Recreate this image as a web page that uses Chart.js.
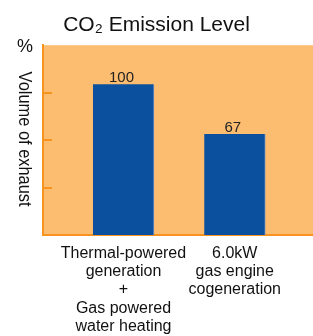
<!DOCTYPE html>
<html>
<head>
<meta charset="utf-8">
<script src="https://cdn.jsdelivr.net/npm/chart.js@4"></script>
<style>
html,body{margin:0;padding:0;background:#fff;}
#wrap{position:relative;width:313px;height:336px;}
</style>
</head>
<body>
<div id="wrap"><canvas id="c" width="313" height="336"></canvas></div>
<script>
const categories = [
  ["Thermal-powered", "generation", "+", "Gas powered", "water heating"],
  ["6.0kW", "gas engine", "cogeneration"]
];
const positions = [0, 1];
const values = [100, 67];
const valueLabels = ["100", "67"];
const titleText = "CO\u2082 Emission Level";
const yUnit = "%";
const yTitle = "Volume of exhaust";
const yTicks = [0, 31.5, 63, 94.5, 126];

const ORANGE_BG = '#FDBD71';
const ORANGE_LINE = '#F7931E';
const BLUE = '#0B509E';

const decor = {
  id: 'decor',
  beforeDraw(chart) {
    const {ctx, chartArea} = chart;
    ctx.save();
    ctx.fillStyle = ORANGE_BG;
    ctx.fillRect(chartArea.left, chartArea.top, chartArea.right - chartArea.left, chartArea.bottom - chartArea.top);
    ctx.restore();
  },
  afterDraw(chart) {
    const {ctx, chartArea} = chart;
    const ys = chart.scales.y;
    const xs = chart.scales.x;
    ctx.save();
    ctx.strokeStyle = ORANGE_LINE;
    ctx.lineWidth = 2;
    yTicks.slice(1, -1).forEach(v => {
      const py = Math.round(ys.getPixelForValue(v));
      ctx.beginPath();
      ctx.moveTo(chartArea.left, py);
      ctx.lineTo(chartArea.left + 9, py);
      ctx.stroke();
    });
    ctx.fillStyle = '#222';
    ctx.font = '15px "Liberation Sans", Arial, sans-serif';
    ctx.textAlign = 'center';
    ctx.textBaseline = 'alphabetic';
    values.forEach((v, i) => {
      ctx.fillText(valueLabels[i], xs.getPixelForValue(positions[i]) - 2, ys.getPixelForValue(v) - 2);
    });
    ctx.fillStyle = '#111';
    ctx.font = '18px "Liberation Sans", Arial, sans-serif';
    ctx.textAlign = 'center';
    ctx.textBaseline = 'middle';
    ctx.fillText(yUnit, 25, chartArea.top + 2);
    ctx.translate(24, (chartArea.top + chartArea.bottom) / 2 - 1);
    ctx.rotate(Math.PI / 2);
    ctx.font = '19px "Liberation Sans", Arial, sans-serif';
    const w = ctx.measureText(yTitle).width;
    ctx.scale(135 / w, 1);
    ctx.textAlign = 'center';
    ctx.textBaseline = 'middle';
    ctx.fillStyle = '#111';
    ctx.fillText(yTitle, 0, 0);
    ctx.restore();
  }
};

new Chart(document.getElementById('c'), {
  type: 'bar',
  data: {
    datasets: [{
      data: positions.map((p, i) => ({x: p, y: values[i]})),
      backgroundColor: BLUE,
      borderColor: '#6f8fbf',
      borderWidth: {top: 0, left: 0, bottom: 0, right: 1},
      borderSkipped: false,
      barThickness: 61
    }]
  },
  options: {
    responsive: false,
    animation: false,
    devicePixelRatio: 1,
    layout: {padding: {top: 0, left: 0, right: 0, bottom: 0}},
    plugins: {
      legend: {display: false},
      tooltip: {enabled: false},
      title: {
        display: true,
        text: titleText,
        color: '#111',
        font: {family: '"Liberation Sans", Arial, sans-serif', size: 21, weight: 'normal'},
        padding: {top: 13, bottom: 7}
      }
    },
    scales: {
      x: {
        type: 'linear',
        offset: false,
        min: -0.723,
        max: 1.703,
        afterBuildTicks: s => { s.ticks = positions.map(v => ({value: v})); },
        afterFit: s => { s.height = 101; },
        grid: {display: false, drawTicks: false, offset: false},
        border: {display: true, color: ORANGE_LINE, width: 2},
        ticks: {
          autoSkip: false,
          maxRotation: 0,
          padding: 9,
          color: '#111',
          font: {family: '"Liberation Sans", Arial, sans-serif', size: 16, lineHeight: 1.15},
          callback: (v) => categories[positions.indexOf(v)]
        }
      },
      y: {
        min: 0,
        max: 126,
        afterBuildTicks: s => { s.ticks = yTicks.map(v => ({value: v})); },
        afterFit: s => { s.width = 43; },
        grid: {display: false, drawTicks: false},
        border: {display: true, color: ORANGE_LINE, width: 2},
        ticks: {display: false}
      }
    }
  },
  plugins: [decor]
});
</script>
</body>
</html>
